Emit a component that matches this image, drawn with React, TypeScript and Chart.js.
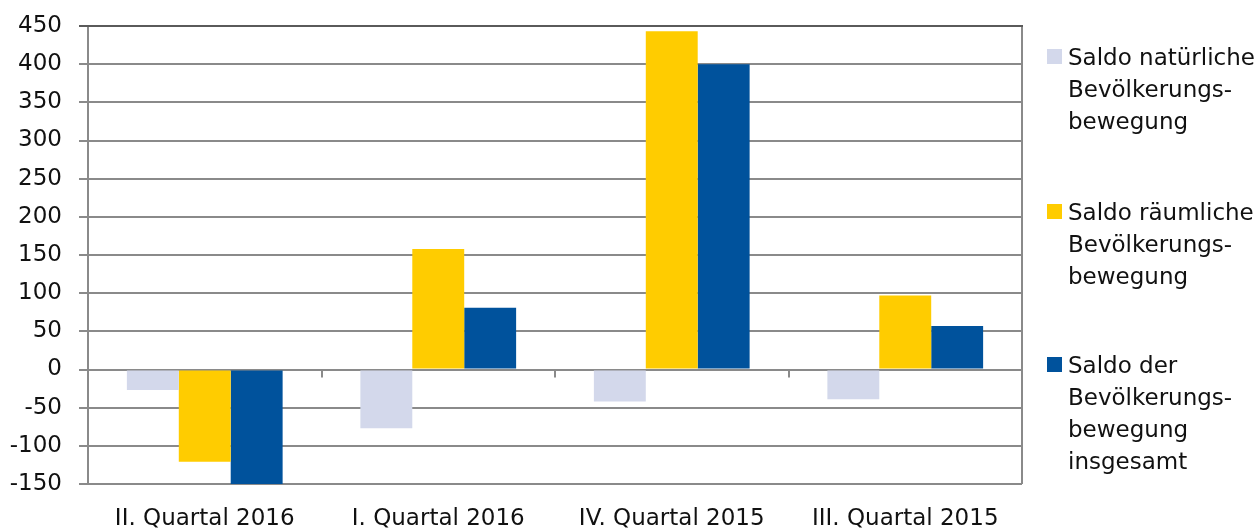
import React, { useEffect, useRef } from "react";
import { Chart, registerables } from "chart.js";

Chart.register(...registerables);

const categories = ["II. Quartal 2016", "I. Quartal 2016", "IV. Quartal 2015", "III. Quartal 2015"];
const natuerlich = [-27, -77, -42, -39];
const raeumlich = [-121, 158, 443, 97];
const insgesamt = [-150, 81, 400, 57];
const seriesLines = [
  ["Saldo natürliche", "Bevölkerungs-", "bewegung"],
  ["Saldo räumliche", "Bevölkerungs-", "bewegung"],
  ["Saldo der", "Bevölkerungs-", "bewegung", "insgesamt"],
];
const seriesColors = ["#D3D8EB", "#FFCC00", "#00529C"];
const yMin = -150;
const yMax = 450;
const yStep = 50;

const FONT = "'DejaVu Sans', Verdana, sans-serif";

const framePlugin = {
  id: "frame",
  beforeDatasetsDraw(chart: any) {
    const { ctx, chartArea, scales } = chart;
    const y0 = scales.y.getPixelForValue(0);
    ctx.save();
    ctx.strokeStyle = "#8a8a8a";
    ctx.lineWidth = 2;
    const n = chart.data.labels.length;
    for (let i = 1; i < n; i++) {
      const x = Math.round(chartArea.left + ((chartArea.right - chartArea.left) * i) / n);
      ctx.beginPath();
      ctx.moveTo(x, y0);
      ctx.lineTo(x, y0 + 8);
      ctx.stroke();
    }
    ctx.beginPath();
    ctx.moveTo(chartArea.right, chartArea.top);
    ctx.lineTo(chartArea.right, chartArea.bottom);
    ctx.stroke();
    ctx.strokeStyle = "#5a5a5a";
    ctx.beginPath();
    ctx.moveTo(chartArea.left - 9, chartArea.top);
    ctx.lineTo(chartArea.right + 1, chartArea.top);
    ctx.stroke();
    ctx.restore();
  },
};

export default function App() {
  const ref = useRef<HTMLCanvasElement | null>(null);

  useEffect(() => {
    document.body.style.margin = "0";
    const canvas = ref.current;
    if (!canvas) return;
    const chart = new Chart(canvas, {
      type: "bar",
      data: {
        labels: categories,
        datasets: [natuerlich, raeumlich, insgesamt].map((d, i) => ({
          label: seriesLines[i].join(" "),
          data: d,
          backgroundColor: seriesColors[i],
          borderWidth: 0,
          barPercentage: 1,
          categoryPercentage: 0.667,
        })),
      },
      options: {
        animation: false,
        responsive: false,
        maintainAspectRatio: false,
        layout: { padding: { top: 26, right: 236, left: 0, bottom: 0 } },
        plugins: {
          legend: { display: false },
          tooltip: { enabled: false },
        },
        scales: {
          x: {
            grid: { display: false, drawTicks: false },
            border: { display: false },
            ticks: {
              color: "#111",
              font: { family: FONT, size: 23 },
              padding: 21,
              maxRotation: 0,
              autoSkip: false,
            },
            afterFit: (s: any) => {
              s.height = 45;
            },
          },
          y: {
            min: yMin,
            max: yMax,
            grid: { color: "#8a8a8a", lineWidth: 2, tickLength: 9 },
            border: { display: true, color: "#8a8a8a", width: 2 },
            ticks: {
              stepSize: yStep,
              color: "#111",
              font: { family: FONT, size: 23 },
              padding: 17,
              callback: (v: any) => String(v),
            },
            afterFit: (s: any) => {
              s.width = 88;
              s.paddingTop = 0;
              s.paddingBottom = 0;
            },
          },
        },
      },
      plugins: [framePlugin],
    });
    return () => chart.destroy();
  }, []);

  const itemTops = [41, 196, 349];

  return (
    <div style={{ position: "relative", width: 1258, height: 529, background: "#fff" }}>
      <canvas ref={ref} width={1258} height={529} style={{ position: "absolute", left: 0, top: 0 }} />
      {seriesLines.map((lines, i) => (
        <div
          key={i}
          style={{
            position: "absolute",
            left: 1047,
            top: itemTops[i],
            fontFamily: FONT,
            fontSize: 23,
            lineHeight: "32px",
            color: "#111",
            whiteSpace: "nowrap",
          }}
        >
          <div
            style={{
              position: "absolute",
              left: 0,
              top: 8,
              width: 15,
              height: 15,
              background: seriesColors[i],
            }}
          />
          <div style={{ marginLeft: 21 }}>
            {lines.map((l, j) => (
              <div key={j}>{l}</div>
            ))}
          </div>
        </div>
      ))}
    </div>
  );
}
